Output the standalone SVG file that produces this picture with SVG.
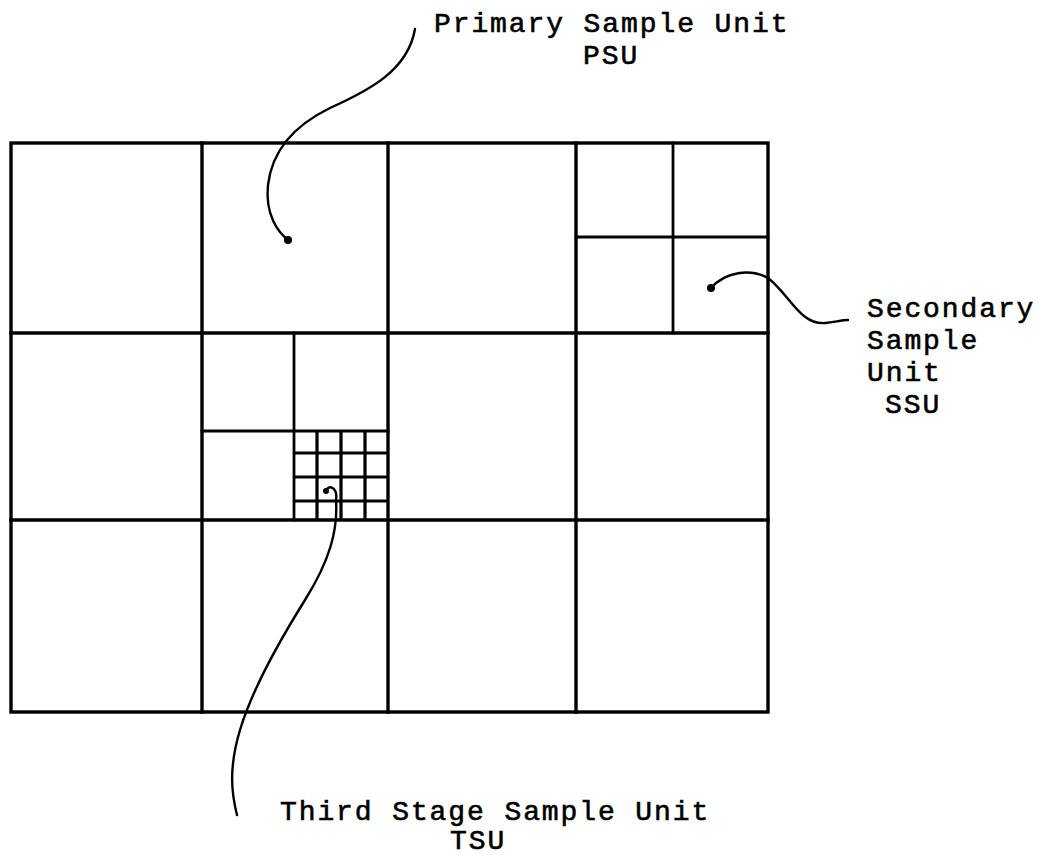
<svg xmlns="http://www.w3.org/2000/svg" width="1038" height="855" viewBox="0 0 1038 855">
<style>
.g{stroke:#000;stroke-width:3.4;fill:none;stroke-linecap:square}
.s{stroke:#000;stroke-width:2.8;fill:none;stroke-linecap:square}
.t{stroke:#000;stroke-width:3.2;fill:none}
.c{stroke:#000;stroke-width:2.4;fill:none;stroke-linecap:round}
text{font-family:"Liberation Mono","DejaVu Sans Mono",monospace;font-size:28px;letter-spacing:1.9px;fill:#000;stroke:#000;stroke-width:0.6}
</style>
<rect width="1038" height="855" fill="#fff"/>
<g id="grid">
<rect class="g" x="11" y="143" width="757" height="569"/>
<line class="g" x1="202" y1="143" x2="202" y2="712"/>
<line class="g" x1="388" y1="143" x2="388" y2="712"/>
<line class="g" x1="576" y1="143" x2="576" y2="712"/>
<line class="g" x1="11" y1="333" x2="768" y2="333"/>
<line class="g" x1="11" y1="520" x2="768" y2="520"/>
</g>
<g id="ssu-split">
<line class="s" x1="673" y1="143" x2="673" y2="333"/>
<line class="s" x1="576" y1="237" x2="768" y2="237"/>
</g>
<g id="mid-split">
<line class="s" x1="294" y1="333" x2="294" y2="520"/>
<line class="s" x1="202" y1="431" x2="388" y2="431"/>
</g>
<g id="tsu-grid">
<line class="t" x1="317" y1="431" x2="317" y2="520"/>
<line class="t" x1="341" y1="431" x2="341" y2="520"/>
<line class="t" x1="365" y1="431" x2="365" y2="520"/>
<line class="t" x1="294" y1="453" x2="388" y2="453"/>
<line class="t" x1="294" y1="477" x2="388" y2="477"/>
<line class="t" x1="294" y1="501" x2="388" y2="501"/>
</g>
<g id="connectors">
<path class="c" d="M415,29 C408,70 370,90 330,108 C295,125 272,150 268,185 C265,215 278,232 288,240"/>
<circle cx="288" cy="240" r="4"/>
<path class="c" d="M711,288 C725,272 750,268 768,278 C790,295 800,325 825,323 C835,322 842,320 848,320"/>
<circle cx="711" cy="288" r="4"/>
<path class="c" d="M326,491 C328,484 338,487 336,500 C338,530 330,560 305,600 C280,640 252,690 240,730 C228,770 232,795 237,815"/>
<circle cx="326" cy="491" r="3"/>
</g>
<g id="label-psu">
<text x="434" y="32">Primary Sample Unit</text>
<text x="583" y="64">PSU</text>
</g>
<g id="label-ssu">
<text x="867" y="317" letter-spacing="1.6">Secondary</text>
<text x="867" y="349" letter-spacing="1.6">Sample</text>
<text x="867" y="381" letter-spacing="1.6">Unit</text>
<text x="885" y="413" letter-spacing="1.6">SSU</text>
</g>
<g id="label-tsu">
<text x="280" y="820" letter-spacing="2">Third Stage Sample Unit</text>
<text x="450" y="849" letter-spacing="2">TSU</text>
</g>
</svg>
